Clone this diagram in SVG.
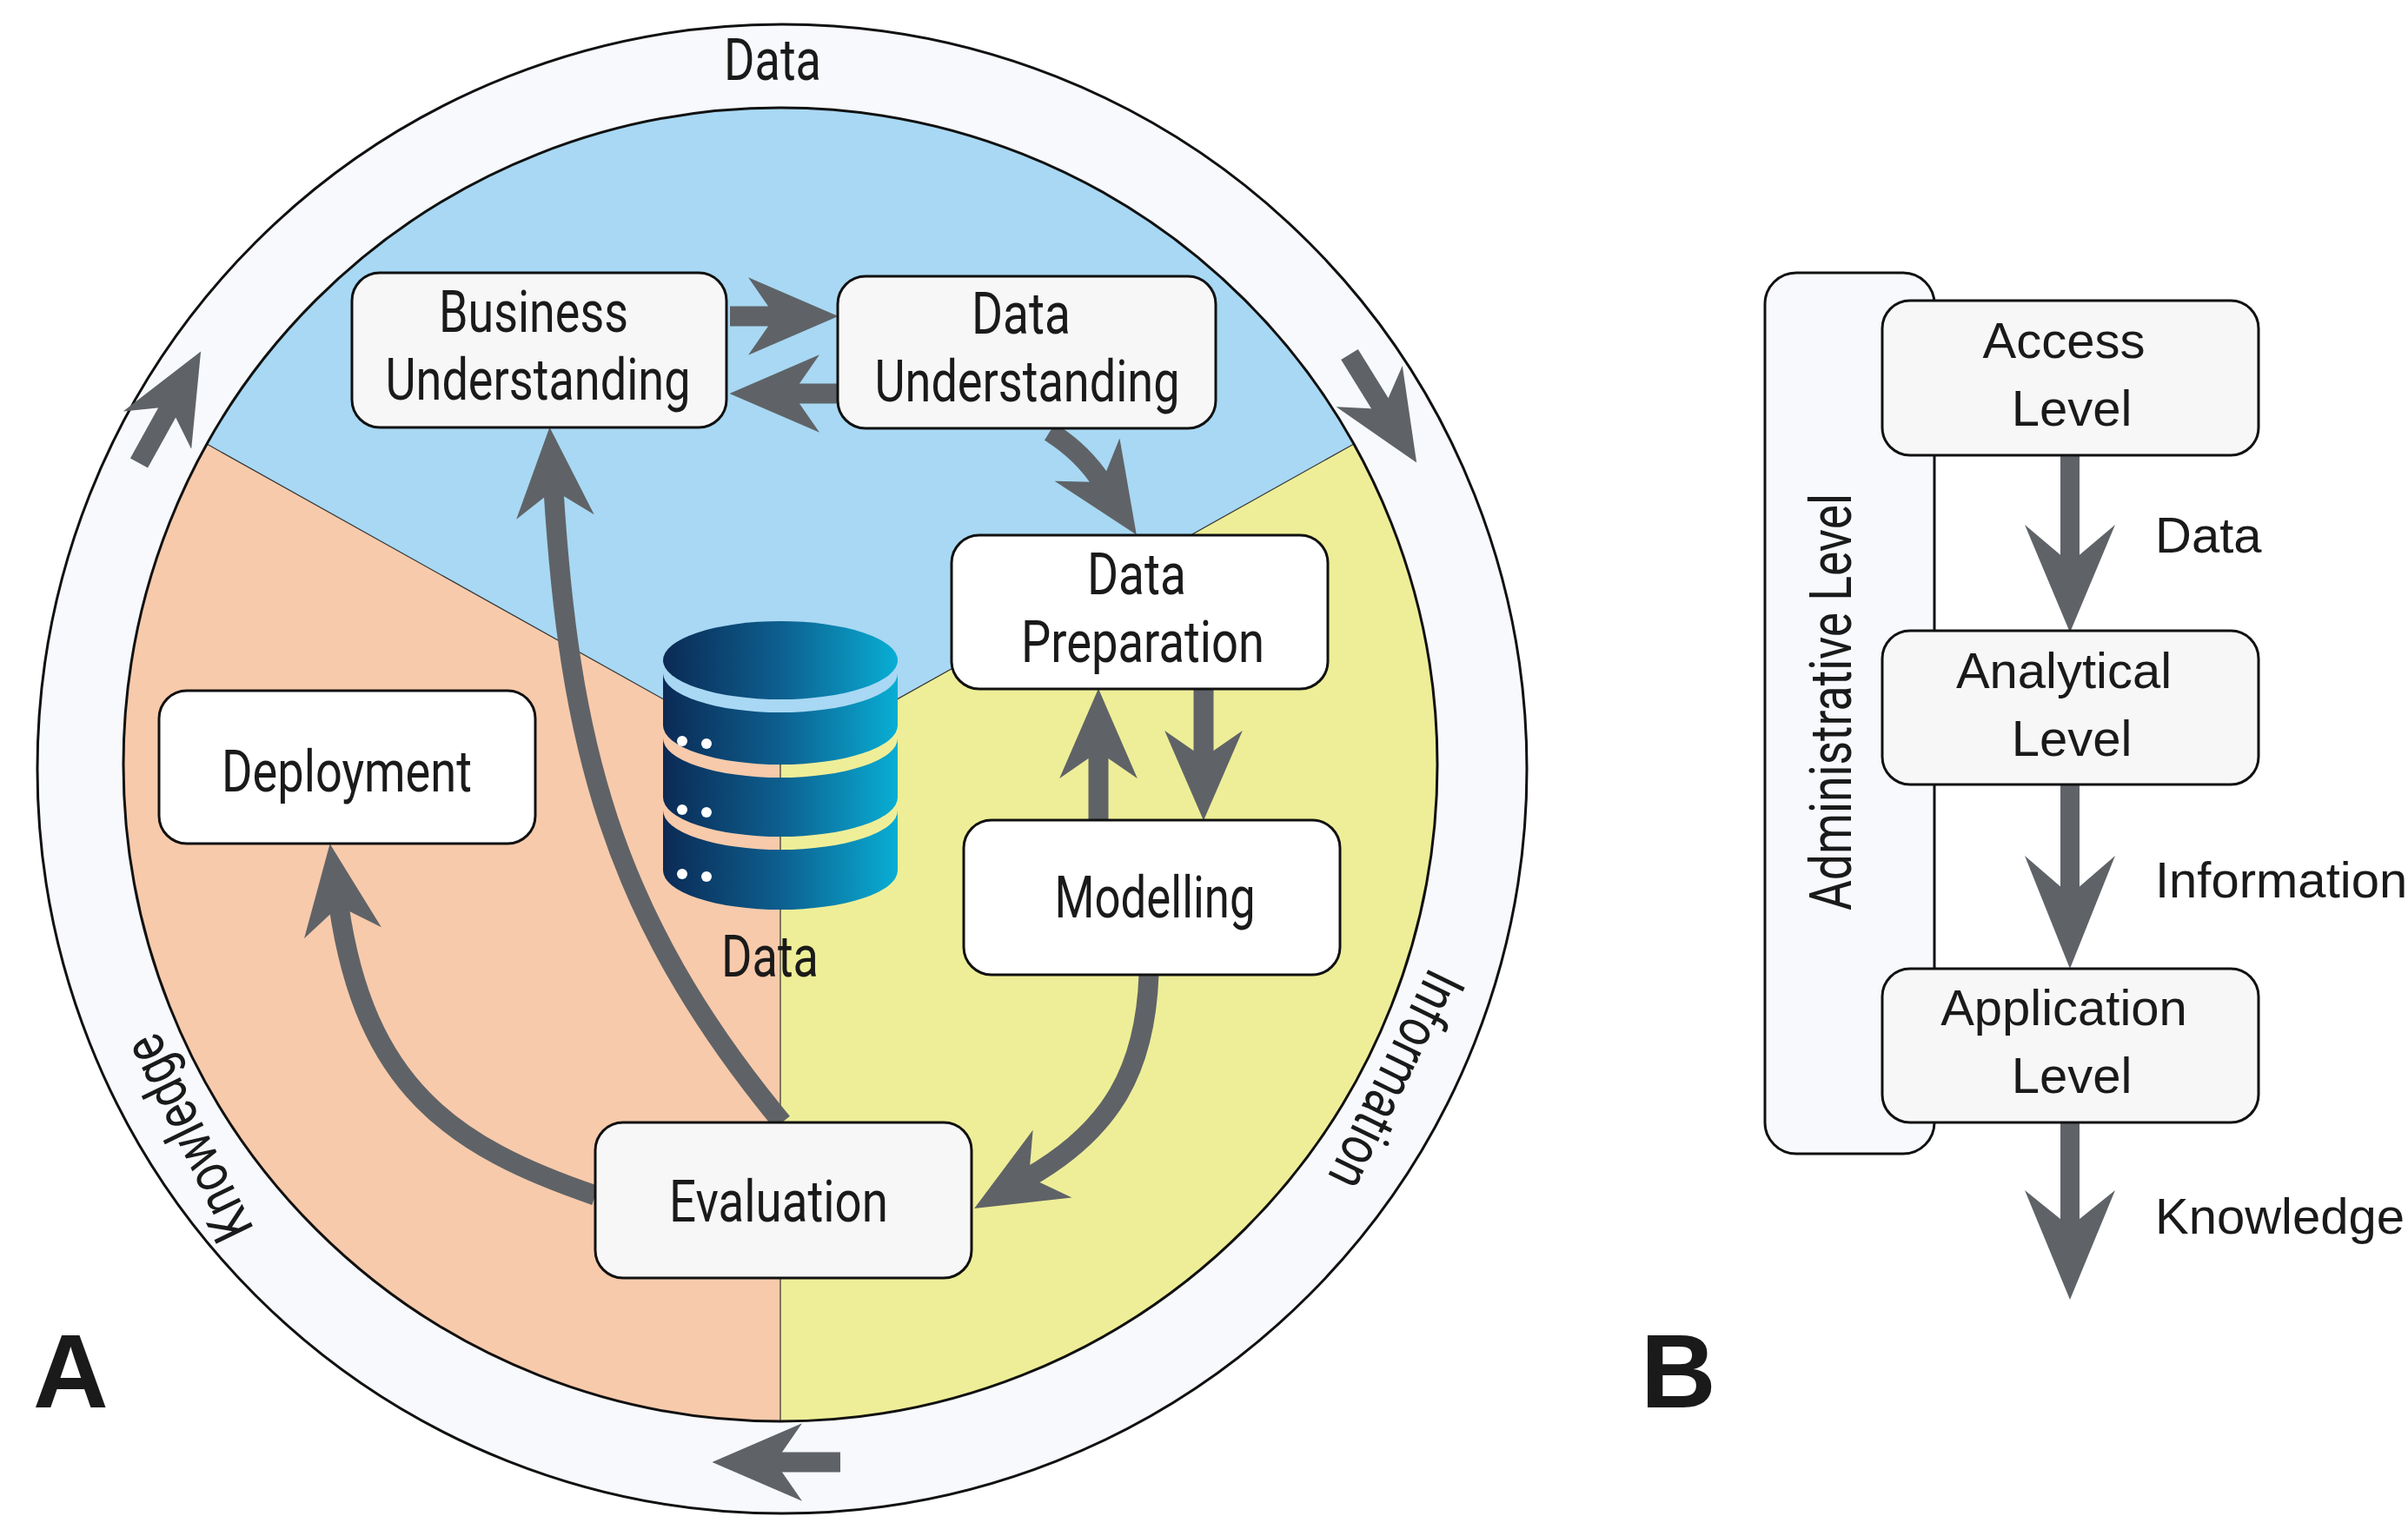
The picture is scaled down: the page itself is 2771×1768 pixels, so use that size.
<svg xmlns="http://www.w3.org/2000/svg" width="2771" height="1768" viewBox="0 0 2771 1768">
<style>
.node{fill:#ffffff;stroke:#111;stroke-width:3}
.nodeg{fill:#f7f7f8;stroke:#111;stroke-width:3}
.t{font-family:Roboto,"Liberation Sans",sans-serif;font-size:66px;fill:#1a1a1a;text-anchor:middle}
.tb{font-family:"Liberation Sans",Arial,sans-serif;font-size:58px;fill:#1a1a1a;text-anchor:middle}
.ts{font-family:"Liberation Sans",Arial,sans-serif;font-size:58px;fill:#1a1a1a}
.arr{fill:none;stroke:#5f6367;stroke-width:23}
.big{font-family:"Liberation Sans",Arial,sans-serif;font-weight:bold;font-size:120px;fill:#1a1a1a}
</style>
<defs>
<marker id="ah" viewBox="0 0 10 10" refX="3" refY="5" markerWidth="4.5" markerHeight="3.9" markerUnits="strokeWidth" orient="auto" preserveAspectRatio="none">
<path d="M0,0 L10,5 L0,10 L3,5 Z" fill="#5f6367"/>
</marker>
<linearGradient id="db" x1="0" y1="0" x2="1" y2="0">
<stop offset="0" stop-color="#0b2a55"/>
<stop offset="0.5" stop-color="#0d5f8f"/>
<stop offset="1" stop-color="#08aed4"/>
</linearGradient>
</defs>
<rect width="2771" height="1768" fill="#ffffff"/>
<g id="ring">
<circle cx="900" cy="885" r="857" fill="#f7f9fc" stroke="#111" stroke-width="3"/>
</g>
<g id="sectors">
<path d="M898,880 L238,511 A756,756 0 0 1 1558,511 Z" fill="#a8d8f3"/>
<path d="M898,880 L1558,511 A756,756 0 0 1 898,1636 Z" fill="#eeee98"/>
<path d="M898,880 L898,1636 A756,756 0 0 1 238,511 Z" fill="#f7caab"/>
<path d="M238,511 L898,880 L1558,511 M898,880 L898,1636" stroke="#333" stroke-width="1.2" fill="none"/>
<circle cx="898" cy="880" r="756" fill="none" stroke="#111" stroke-width="3"/>
</g>
<g id="ringlabels">
<text class="t" x="889" y="92" textLength="112" lengthAdjust="spacingAndGlyphs">Data</text>
<text class="t" transform="translate(217,1310) rotate(-116)" textLength="255" lengthAdjust="spacingAndGlyphs" y="22">Knowledge</text>
<text class="t" transform="translate(1606,1243) rotate(116)" textLength="270" lengthAdjust="spacingAndGlyphs" y="22">Information</text>
</g>
<g id="database">
<path d="M763,775 A135,45 0 0 0 1033,775 L1033,835 A135,45 0 0 1 763,835 Z" fill="url(#db)"/>
<path d="M763,850 A135,45 0 0 0 1033,850 L1033,918 A135,45 0 0 1 763,918 Z" fill="url(#db)"/>
<path d="M763,933 A135,45 0 0 0 1033,933 L1033,1002 A135,45 0 0 1 763,1002 Z" fill="url(#db)"/>
<ellipse cx="898" cy="760" rx="135" ry="45" fill="url(#db)"/>
<g fill="#ffffff">
<circle cx="785" cy="853" r="6"/><circle cx="813" cy="856" r="6"/>
<circle cx="785" cy="932" r="6"/><circle cx="813" cy="935" r="6"/>
<circle cx="785" cy="1006" r="6"/><circle cx="813" cy="1009" r="6"/>
</g>
<text class="t" x="886" y="1124" textLength="112" lengthAdjust="spacingAndGlyphs">Data</text>
</g>
<g id="connectors">
<path class="arr" marker-end="url(#ah)" d="M840,364 L892,364"/>
<path class="arr" marker-end="url(#ah)" d="M964,453 L912,453"/>
<path class="arr" marker-end="url(#ah)" d="M1208,497 Q1245,520 1268,555"/>
<path class="arr" marker-end="url(#ah)" d="M1264,944 L1264,865"/>
<path class="arr" marker-end="url(#ah)" d="M1385,793 L1385,872"/>
<path class="arr" marker-end="url(#ah)" d="M1322,1122 C1318,1230 1280,1300 1184,1355"/>
<path class="arr" marker-end="url(#ah)" d="M685,1376 C520,1320 420,1250 390,1043"/>
<path class="arr" marker-end="url(#ah)" d="M900,1292 C700,1050 655,850 637,564"/>
<path class="arr" marker-end="url(#ah)" d="M160,533 L196,468"/>
<path class="arr" marker-end="url(#ah)" d="M1553,408 L1592,471"/>
<path class="arr" marker-end="url(#ah)" d="M967,1683 L892,1683"/>
<g fill="#5f6367">
<rect x="2371" y="524" width="22" height="130"/>
<path d="M2382,728 L2330,604 L2382,648 L2434,604 Z"/>
<rect x="2371" y="903" width="22" height="132"/>
<path d="M2382,1115 L2330,985 L2382,1030 L2434,985 Z"/>
<rect x="2371" y="1292" width="22" height="124"/>
<path d="M2382,1496 L2330,1370 L2382,1412 L2434,1370 Z"/>
</g>
</g>
<g id="bu"><rect class="nodeg" x="405" y="314" width="431" height="178" rx="32"/>
<text class="t" x="614" y="382" textLength="218" lengthAdjust="spacingAndGlyphs">Business</text>
<text class="t" x="619" y="460" textLength="351" lengthAdjust="spacingAndGlyphs">Understanding</text></g>
<g id="du"><rect class="nodeg" x="964" y="318" width="435" height="175" rx="32"/>
<text class="t" x="1175" y="384" textLength="114" lengthAdjust="spacingAndGlyphs">Data</text>
<text class="t" x="1182" y="462" textLength="351" lengthAdjust="spacingAndGlyphs">Understanding</text></g>
<g id="dp"><rect class="node" x="1095" y="616" width="433" height="177" rx="32"/>
<text class="t" x="1308" y="684" textLength="114" lengthAdjust="spacingAndGlyphs">Data</text>
<text class="t" x="1315" y="762" textLength="280" lengthAdjust="spacingAndGlyphs">Preparation</text></g>
<g id="mo"><rect class="node" x="1109" y="944" width="433" height="178" rx="32"/>
<text class="t" x="1329" y="1056" textLength="231" lengthAdjust="spacingAndGlyphs">Modelling</text></g>
<g id="de"><rect class="node" x="183" y="795" width="433" height="176" rx="32"/>
<text class="t" x="399" y="911" textLength="288" lengthAdjust="spacingAndGlyphs">Deployment</text></g>
<g id="ev"><rect class="nodeg" x="685" y="1292" width="433" height="179" rx="32"/>
<text class="t" x="896" y="1406" textLength="252" lengthAdjust="spacingAndGlyphs">Evaluation</text></g>
<text class="big" x="38" y="1620">A</text>
<text class="big" x="1888" y="1620">B</text>
<g id="admin"><rect x="2031" y="314" width="195" height="1014" rx="36" fill="#f7f9fc" stroke="#111" stroke-width="3"/>
<text class="t" transform="translate(2130,808) rotate(-90)" textLength="480" lengthAdjust="spacingAndGlyphs">Administrative Level</text></g>
<g id="access"><rect class="nodeg" x="2166" y="346" width="433" height="178" rx="32"/>
<text class="tb" x="2375" y="412">Access</text><text class="tb" x="2384" y="490">Level</text></g>
<g id="analytical"><rect class="nodeg" x="2166" y="726" width="433" height="177" rx="32"/>
<text class="tb" x="2375" y="792">Analytical</text><text class="tb" x="2384" y="870">Level</text></g>
<g id="application"><rect class="nodeg" x="2166" y="1115" width="433" height="177" rx="32"/>
<text class="tb" x="2375" y="1180">Application</text><text class="tb" x="2384" y="1258">Level</text></g>
<text class="ts" x="2480" y="636">Data</text>
<text class="ts" x="2480" y="1033">Information</text>
<text class="ts" x="2480" y="1420">Knowledge</text>
</svg>
